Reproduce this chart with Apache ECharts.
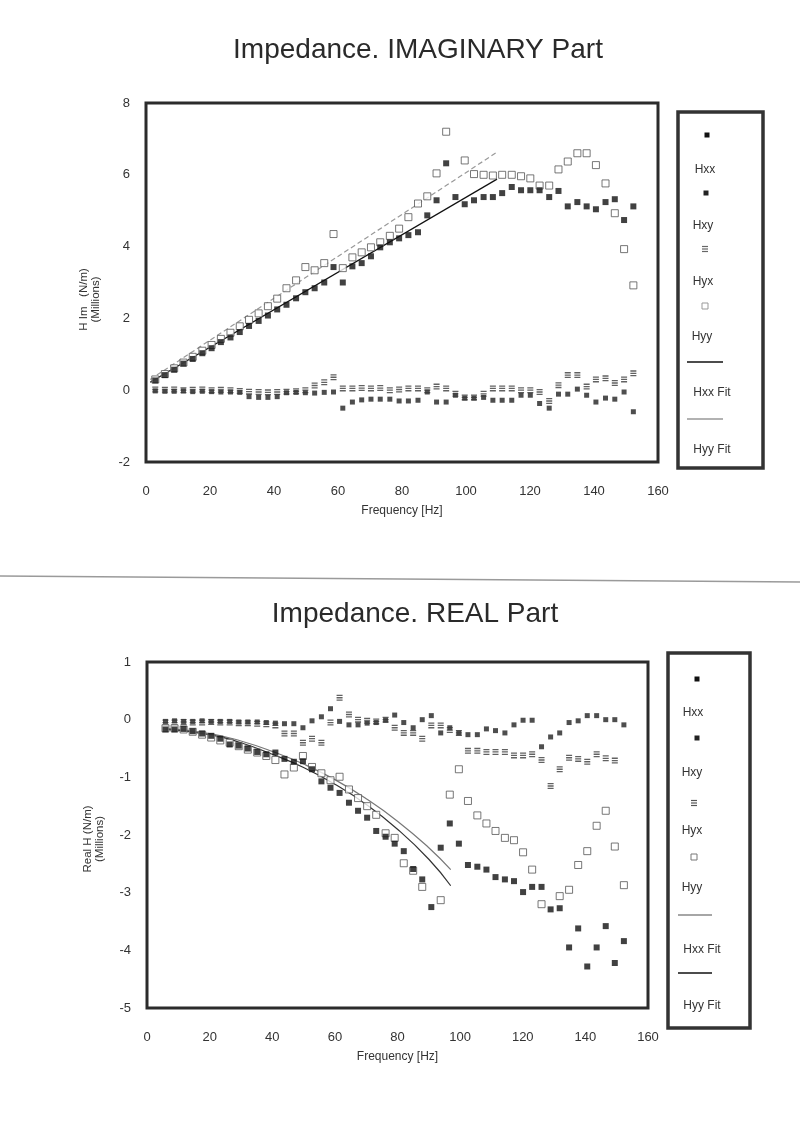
<!DOCTYPE html>
<html>
<head>
<meta charset="utf-8">
<script src="https://cdn.jsdelivr.net/npm/echarts@6/dist/echarts.min.js"></script>
<style>
  html, body { margin: 0; padding: 0; background: #fff; }
  #c { width: 800px; height: 1124px; }
</style>
</head>
<body>
<div id="c"></div>
<script>
// Frequency points (Hz) shared by both panels
const FREQ = [2.9, 5.9, 8.8, 11.7, 14.6, 17.6, 20.5, 23.4, 26.4, 29.3, 32.2, 35.2, 38.1, 41.0, 43.9, 46.9, 49.8, 52.7, 55.7, 58.6,
  61.5, 64.5, 67.4, 70.3, 73.2, 76.2, 79.1, 82.0, 85.0, 87.9, 90.8, 93.8, 96.7, 99.6, 102.5, 105.5, 108.4, 111.3, 114.3, 117.2,
  120.1, 123.0, 126.0, 128.9, 131.8, 134.8, 137.7, 140.6, 143.6, 146.5, 149.4, 152.3];

// Imaginary part (millions N/m)
const IM_HXX = [0.27, 0.42, 0.57, 0.74, 0.87, 1.03, 1.17, 1.34, 1.47, 1.62, 1.79, 1.93, 2.08, 2.25, 2.38, 2.56, 2.73, 2.84, 3.0, 3.43,
  3.0, 3.45, 3.54, 3.73, 3.98, 4.12, 4.23, 4.32, 4.4, 4.87, 5.29, 6.32, 5.38, 5.18, 5.29, 5.38, 5.38, 5.49, 5.66, 5.57,
  5.57, 5.57, 5.38, 5.55, 5.12, 5.24, 5.12, 5.04, 5.24, 5.32, 4.74, 5.12];
const IM_HXY = [-0.02, -0.03, -0.03, -0.02, -0.04, -0.03, -0.04, -0.05, -0.05, -0.06, -0.18, -0.2, -0.2, -0.18, -0.07, -0.06, -0.07, -0.08, -0.06, -0.05,
  -0.5, -0.33, -0.27, -0.25, -0.25, -0.25, -0.3, -0.3, -0.28, -0.05, -0.33, -0.33, -0.14, -0.22, -0.22, -0.2, -0.28, -0.28, -0.28, -0.14,
  -0.14, -0.37, -0.5, -0.11, -0.11, 0.03, -0.14, -0.33, -0.22, -0.25, -0.05, -0.6];
const IM_HYX = [0.02, 0.01, 0.02, 0.0, 0.01, 0.02, 0.0, 0.01, 0.0, -0.02, -0.04, -0.05, -0.06, -0.05, -0.04, -0.03, 0.0, 0.13, 0.22, 0.36,
  0.05, 0.05, 0.06, 0.05, 0.06, 0.0, 0.02, 0.05, 0.05, 0.0, 0.1, 0.05, -0.1, -0.2, -0.2, -0.1, 0.05, 0.05, 0.05, 0.0,
  0.0, -0.05, -0.3, 0.14, 0.42, 0.42, 0.1, 0.3, 0.33, 0.2, 0.3, 0.47];
const IM_HYY = [0.3, 0.45, 0.61, 0.77, 0.93, 1.1, 1.26, 1.43, 1.6, 1.78, 1.96, 2.14, 2.34, 2.55, 2.84, 3.06, 3.43, 3.34, 3.54, 4.35,
  3.4, 3.7, 3.84, 3.98, 4.12, 4.3, 4.5, 4.82, 5.2, 5.4, 6.04, 7.2, null, 6.4, 6.02, 6.0, 5.98, 6.0, 6.0, 5.96,
  5.9, 5.7, 5.7, 6.15, 6.37, 6.6, 6.6, 6.27, 5.76, 4.93, 3.93, 2.92];
const IM_HXX_FIT = [[1.3, 0.22], [109.7, 5.88]];
const IM_HYY_FIT = [[1.3, 0.3], [109.7, 6.63]];

// Real part (millions N/m)
const RE_HXX = [null, -0.17, -0.17, -0.16, -0.2, -0.24, -0.28, -0.33, -0.43, -0.45, -0.5,
  -0.56, -0.6, -0.57, -0.68, -0.73, -0.72, -0.86, -1.07, -1.18, -1.27,
  -1.44, -1.58, -1.7, -1.93, -2.03, -2.15, -2.28, -2.59, -2.77, -3.25,
  -2.22, -1.8, -2.15, -2.52, -2.55, -2.6, -2.73, -2.77, -2.8, -2.99,
  -2.9, -2.9, -3.29, -3.27, -3.95, -3.62, -4.28, -3.95, -3.58, -4.22, -3.84];
const RE_HXY = [null, -0.03, -0.02, -0.03, -0.03, -0.02, -0.03, -0.03, -0.03, -0.04, -0.04,
  -0.04, -0.05, -0.06, -0.07, -0.07, -0.14, -0.02, 0.05, 0.19, -0.03,
  -0.09, -0.09, -0.06, -0.05, -0.01, 0.08, -0.05, -0.14, 0.0, 0.07,
  -0.23, -0.14, -0.23, -0.26, -0.26, -0.16, -0.19, -0.23, -0.09, -0.01,
  -0.01, -0.47, -0.3, -0.23, -0.05, -0.02, 0.07, 0.07, 0.0, 0.0, -0.09];
const RE_HYX = [null, -0.05, -0.05, -0.04, -0.05, -0.05, -0.04, -0.05, -0.05, -0.06, -0.06,
  -0.07, -0.08, -0.1, -0.24, -0.24, -0.4, -0.33, -0.4, -0.05, 0.38,
  0.09, 0.0, -0.02, -0.03, 0.0, -0.14, -0.23, -0.23, -0.33, -0.1,
  -0.1, -0.18, -0.23, -0.54, -0.54, -0.56, -0.56, -0.56, -0.62, -0.62,
  -0.6, -0.7, -1.15, -0.86, -0.66, -0.68, -0.73, -0.6, -0.67, -0.71, null];
const RE_HYY = [null, -0.15, -0.15, -0.17, -0.21, -0.26, -0.31, -0.36, -0.4, -0.46, -0.52,
  -0.57, -0.63, -0.7, -0.95, -0.83, -0.63, -0.82, -0.93, -1.05, -0.99,
  -1.21, -1.36, -1.5, -1.65, -1.97, -2.05, -2.49, -2.62, -2.9, null,
  -3.13, -1.3, -0.86, -1.41, -1.66, -1.8, -1.93, -2.05, -2.09, -2.3,
  -2.6, -3.2, null, -3.06, -2.95, -2.52, -2.28, -1.84, -1.58, -2.2, -2.87];
const RE_HXX_FIT = [[5.9, -0.15], [20, -0.24], [30, -0.37], [40, -0.55], [50, -0.77], [60, -1.04], [70, -1.37], [80, -1.76], [90, -2.22], [97, -2.6]];
const RE_HYY_FIT = [[5.9, -0.17], [20, -0.26], [30, -0.4], [40, -0.6], [50, -0.83], [60, -1.12], [70, -1.47], [80, -1.9], [90, -2.42], [97, -2.88]];

const LEGEND_NAMES = ['Hxx', 'Hxy', 'Hyx', 'Hyy', 'Hxx Fit', 'Hyy Fit'];

const FONT = '"Liberation Sans", Arial, sans-serif';
const INK = '#2b2b2b';
const HATCH = 'path://M0,0L10,0L10,2.2L0,2.2Z M0,3.9L10,3.9L10,6.1L0,6.1Z M0,7.8L10,7.8L10,10L0,10Z';

function pts(vals) {
  return FREQ.map((f, i) => [f, vals[i]]).filter(p => p[1] !== null && p[1] !== undefined);
}

const markerStyles = {
  Hxx: { symbol: 'rect', symbolSize: 6, itemStyle: { color: '#111' } },
  Hxy: { symbol: 'rect', symbolSize: 5, itemStyle: { color: '#222' } },
  Hyx: { symbol: HATCH, symbolSize: 6, itemStyle: { color: '#3a3a3a' } },
  Hyy: { symbol: 'rect', symbolSize: 7, itemStyle: { color: '#fff', borderColor: '#555', borderWidth: 1 } }
};

function scatter(name, vals, idx) {
  return Object.assign({ type: 'scatter', name: name, xAxisIndex: idx, yAxisIndex: idx, data: pts(vals), z: 3 }, markerStyles[name]);
}
function fitLine(name, data, idx, color, dashed, smooth) {
  return { type: 'line', name: name, xAxisIndex: idx, yAxisIndex: idx, data: data, symbol: 'none', smooth: smooth, z: 2,
    lineStyle: { color: color, width: 1.2, type: dashed ? [5, 3] : 'solid' } };
}

function xAxis(idx) {
  return { gridIndex: idx, type: 'value', min: 0, max: 160, interval: 20,
    axisLine: { show: false }, axisTick: { show: false }, splitLine: { show: false },
    axisLabel: { margin: 23, fontSize: 13, color: '#333', fontFamily: FONT },
    name: 'Frequency [Hz]', nameLocation: 'middle', nameGap: 43,
    nameTextStyle: { fontSize: 12, color: '#333', fontFamily: FONT } };
}
function yAxis(idx, min, max, interval, name, gap, pad) {
  return { gridIndex: idx, type: 'value', min: min, max: max, interval: interval,
    axisLine: { show: false }, axisTick: { show: false }, splitLine: { show: false },
    axisLabel: { margin: 16, fontSize: 13, color: '#333', fontFamily: FONT },
    name: name, nameLocation: 'middle', nameGap: gap, nameRotate: 90,
    nameTextStyle: { fontSize: 11.5, color: '#333', fontFamily: FONT, lineHeight: 12, align: 'center', padding: pad } };
}

// Legend panel drawn as a column: marker above each label, line sample above each fit label
function legendPanel(box, items) {
  const g = [{ type: 'rect', shape: box, style: { fill: 'none', stroke: '#333', lineWidth: 3.5 }, z: 10 }];
  items.forEach(it => {
    if (it.kind === 'text') {
      g.push({ type: 'text', x: it.x, y: it.y, z: 10,
        style: { text: it.text, fill: '#333', font: '12px ' + FONT, align: 'center', verticalAlign: 'middle' } });
    } else if (it.kind === 'line') {
      g.push({ type: 'line', z: 10, shape: { x1: it.x1, y1: it.y, x2: it.x2, y2: it.y },
        style: { stroke: it.color, lineWidth: 1.3 } });
    } else if (it.kind === 'fill') {
      g.push({ type: 'rect', z: 10, shape: { x: it.x - it.s / 2, y: it.y - it.s / 2, width: it.s, height: it.s }, style: { fill: it.color } });
    } else if (it.kind === 'open') {
      g.push({ type: 'rect', z: 10, shape: { x: it.x - 3, y: it.y - 3, width: 6, height: 6 }, style: { fill: '#fff', stroke: it.color, lineWidth: 1 } });
    } else if (it.kind === 'hatch') {
      [-2.5, 0, 2.5].forEach(d => g.push({ type: 'rect', z: 10, shape: { x: it.x - 3, y: it.y + d - 0.6, width: 6, height: 1.2 }, style: { fill: it.color } }));
    }
  });
  return g;
}

const topLegend = legendPanel({ x: 678, y: 112, width: 85, height: 356 }, [
  { kind: 'fill', x: 707, y: 135, s: 5, color: '#111' },
  { kind: 'text', x: 705, y: 170, text: LEGEND_NAMES[0] },
  { kind: 'fill', x: 706, y: 193, s: 5, color: '#222' },
  { kind: 'text', x: 703, y: 226, text: LEGEND_NAMES[1] },
  { kind: 'hatch', x: 705, y: 249, color: '#666' },
  { kind: 'text', x: 703, y: 282, text: LEGEND_NAMES[2] },
  { kind: 'open', x: 705, y: 306, color: '#999' },
  { kind: 'text', x: 702, y: 337, text: LEGEND_NAMES[3] },
  { kind: 'line', x1: 687, x2: 723, y: 362, color: '#111' },
  { kind: 'text', x: 712, y: 393, text: LEGEND_NAMES[4] },
  { kind: 'line', x1: 687, x2: 723, y: 419, color: '#999' },
  { kind: 'text', x: 712, y: 450, text: LEGEND_NAMES[5] }
]);
const bottomLegend = legendPanel({ x: 668, y: 653, width: 82, height: 375 }, [
  { kind: 'fill', x: 697, y: 679, s: 5, color: '#111' },
  { kind: 'text', x: 693, y: 713, text: LEGEND_NAMES[0] },
  { kind: 'fill', x: 697, y: 738, s: 5, color: '#222' },
  { kind: 'text', x: 692, y: 773, text: LEGEND_NAMES[1] },
  { kind: 'hatch', x: 694, y: 803, color: '#555' },
  { kind: 'text', x: 692, y: 831, text: LEGEND_NAMES[2] },
  { kind: 'open', x: 694, y: 857, color: '#777' },
  { kind: 'text', x: 692, y: 888, text: LEGEND_NAMES[3] },
  { kind: 'line', x1: 678, x2: 712, y: 915, color: '#888' },
  { kind: 'text', x: 702, y: 950, text: LEGEND_NAMES[4] },
  { kind: 'line', x1: 678, x2: 712, y: 973, color: '#111' },
  { kind: 'text', x: 702, y: 1006, text: LEGEND_NAMES[5] }
]);

const chart = echarts.init(document.getElementById('c'), null, { renderer: 'canvas' });
chart.setOption({
  backgroundColor: '#fff',
  animation: false,
  title: [
    { text: 'Impedance. IMAGINARY Part', left: 413, top: 31, textAlign: 'center',
      textStyle: { fontSize: 28, fontWeight: 'normal', color: '#2a2a2a', fontFamily: FONT } },
    { text: 'Impedance. REAL Part', left: 410, top: 595, textAlign: 'center',
      textStyle: { fontSize: 28, fontWeight: 'normal', color: '#2a2a2a', fontFamily: FONT } }
  ],
  grid: [
    { left: 146, top: 103, width: 512, height: 359, show: true, borderColor: INK, borderWidth: 3, backgroundColor: 'transparent' },
    { left: 147, top: 662, width: 501, height: 346, show: true, borderColor: INK, borderWidth: 3, backgroundColor: 'transparent' }
  ],
  xAxis: [xAxis(0), xAxis(1)],
  yAxis: [
    yAxis(0, -2, 8, 2, 'H Im   (N/m)\n(Millions)', 44, [0, 34, 0, 0]),
    yAxis(1, -5, 1, 1, 'Real H (N/m)\n(Millions)', 41, [0, 8, 0, 0])
  ],
  series: [
    fitLine('Hxx Fit', IM_HXX_FIT, 0, '#111', false, false),
    fitLine('Hyy Fit', IM_HYY_FIT, 0, '#999', true, false),
    scatter('Hxy', IM_HXY, 0),
    scatter('Hyx', IM_HYX, 0),
    scatter('Hyy', IM_HYY, 0),
    scatter('Hxx', IM_HXX, 0),
    fitLine('Hxx Fit', RE_HXX_FIT, 1, '#777', false, true),
    fitLine('Hyy Fit', RE_HYY_FIT, 1, '#333', false, true),
    scatter('Hxy', RE_HXY, 1),
    scatter('Hyx', RE_HYX, 1),
    scatter('Hyy', RE_HYY, 1),
    scatter('Hxx', RE_HXX, 1)
  ],
  graphic: [
    { type: 'line', shape: { x1: 0, y1: 576, x2: 800, y2: 582 }, style: { stroke: '#9a9a9a', lineWidth: 1.5 } }
  ].concat(topLegend, bottomLegend)
});
</script>
</body>
</html>
